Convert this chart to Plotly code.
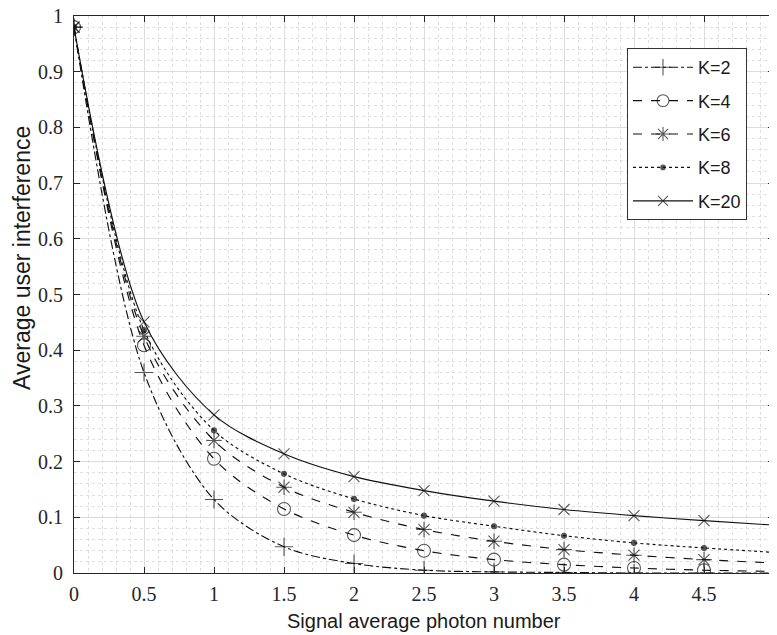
import plotly.graph_objects as go

x = [0, 0.5, 1, 1.5, 2, 2.5, 3, 3.5, 4, 4.5, 5]
k2 = [0.98, 0.360, 0.132, 0.047, 0.017, 0.005, 0.002, 0.001, 0.000, 0.000, 0.000]
k4 = [0.98, 0.409, 0.205, 0.115, 0.068, 0.040, 0.024, 0.015, 0.009, 0.005, 0.003]
k6 = [0.98, 0.425, 0.238, 0.154, 0.109, 0.078, 0.057, 0.042, 0.032, 0.024, 0.018]
k8 = [0.98, 0.436, 0.256, 0.178, 0.133, 0.103, 0.084, 0.067, 0.054, 0.045, 0.037]
k20 = [0.98, 0.451, 0.284, 0.214, 0.173, 0.148, 0.129, 0.114, 0.103, 0.094, 0.086]
names = ["K=2", "K=4", "K=6", "K=8", "K=20"]
series = [k2, k4, k6, k8, k20]
xticks = [0, 0.5, 1, 1.5, 2, 2.5, 3, 3.5, 4, 4.5, 5]
xticklabels = ["0", "0.5", "1", "1.5", "2", "2.5", "3", "3.5", "4", "4.5", "5"]
yticks = [0, 0.1, 0.2, 0.3, 0.4, 0.5, 0.6, 0.7, 0.8, 0.9, 1]
yticklabels = ["0", "0.1", "0.2", "0.3", "0.4", "0.5", "0.6", "0.7", "0.8", "0.9", "1"]

styles = [
    dict(dash="dashdot", symbol="cross-thin-open", size=13),
    dict(dash="dash", symbol="circle-open", size=13),
    dict(dash="dash", symbol="asterisk-open", size=13),
    dict(dash="dot", symbol="circle", size=5),
    dict(dash="solid", symbol="x-thin-open", size=11),
]

fig = go.Figure()
for i, (name, ys, st) in enumerate(zip(names, series, styles)):
    sizes = [st["size"]] * (len(x) - 1) + [0]
    fig.add_trace(go.Scatter(
        x=x, y=ys, name=name, mode="lines+markers",
        line=dict(color="#111111", width=1.15, dash=st["dash"], shape="spline", smoothing=0.9),
        marker=dict(symbol=st["symbol"], size=sizes, color="#111111",
                    line=dict(color="#111111", width=1.1)),
        legendgroup=name,
    ))

tickfont = dict(family="Liberation Serif, DejaVu Serif, serif", size=20, color="#262626")
L, R, T, B = 66, 11, 8, 70
pw, ph = 777 - L - R, 635 - T - B
fig.update_layout(
    width=777, height=635,
    margin=dict(l=L, r=R, t=T, b=B),
    paper_bgcolor="white", plot_bgcolor="white",
    showlegend=True,
    legend=dict(
        x=(619 - L) / pw, y=(ph - 32) / ph, xanchor="left", yanchor="top",
        bgcolor="white", bordercolor="#333333", borderwidth=1,
        font=dict(family="Liberation Sans", size=18, color="#1a1a1a"),
        traceorder="grouped", tracegroupgap=7, itemwidth=60,
    ),
    xaxis=dict(
        range=[0, 5], tickvals=xticks, ticktext=xticklabels,
        showgrid=True, gridcolor="#dcdcdc", gridwidth=1,
        minor=dict(dtick=0.1, showgrid=True, gridcolor="#dedede", griddash="dot", gridwidth=1),
        showline=True, linecolor="#262626", linewidth=1, mirror="ticks",
        ticks="inside", ticklen=6, tickcolor="#262626",
        tickfont=tickfont, zeroline=False, ticklabelstandoff=3,
        ticklabeloverflow="allow", automargin=False,
    ),
    yaxis=dict(
        range=[0, 1], tickvals=yticks, ticktext=yticklabels,
        showgrid=True, gridcolor="#dcdcdc", gridwidth=1,
        minor=dict(dtick=0.02, showgrid=True, gridcolor="#dedede", griddash="dot", gridwidth=1),
        showline=True, linecolor="#262626", linewidth=1, mirror="ticks",
        ticks="inside", ticklen=6, tickcolor="#262626",
        tickfont=tickfont, zeroline=False, ticklabelstandoff=6,
        ticklabeloverflow="allow", automargin=False,
    ),
    annotations=[
        dict(text="Signal average photon number", xref="paper", yref="paper",
             x=0.5, y=(ph - 605) / ph, xanchor="center", yanchor="middle", showarrow=False,
             font=dict(family="Liberation Sans", size=20, color="#1a1a1a")),
        dict(text="Average user interference", xref="paper", yref="paper",
             x=(14 - L) / pw, y=(ph - 242) / ph, xanchor="center", yanchor="middle",
             showarrow=False, textangle=-90,
             font=dict(family="Liberation Sans", size=23, color="#1a1a1a")),
    ],
)
fig.write_html("out.html")
